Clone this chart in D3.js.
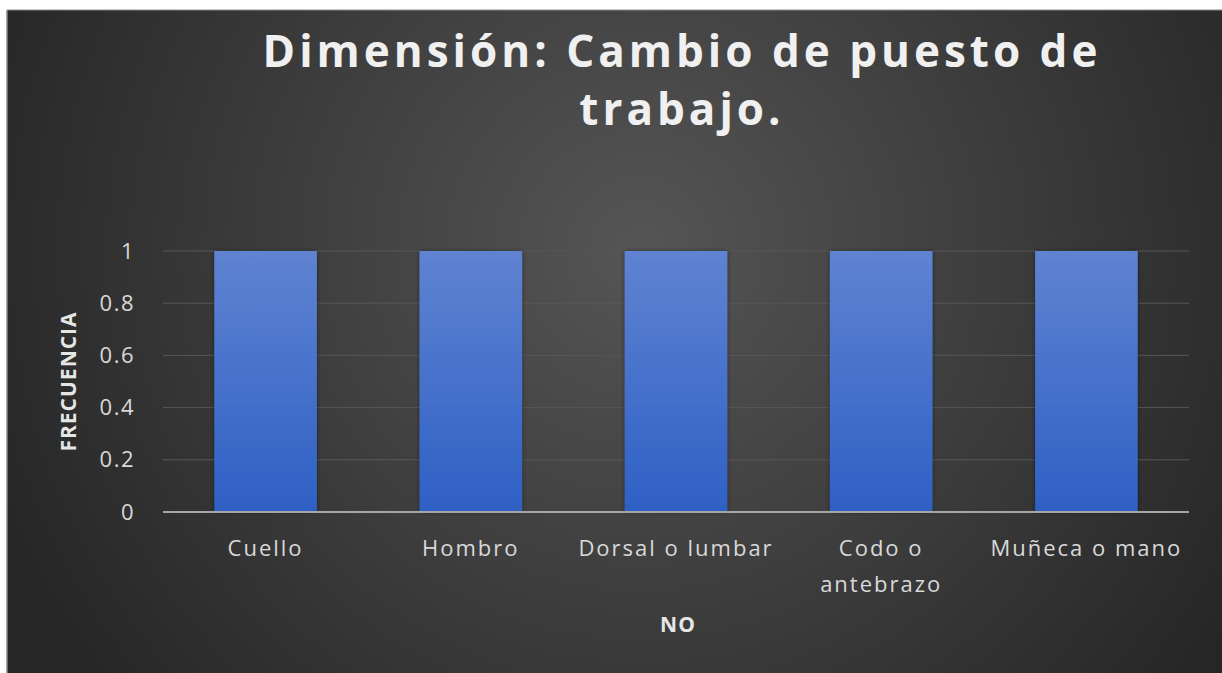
<!DOCTYPE html>
<html>
<head>
<meta charset="utf-8">
<script src="https://cdn.jsdelivr.net/npm/d3@7"></script>
<style>
  body { margin:0; background:#fff; }
  svg { display:block; }
</style>
</head>
<body>
<div class="canvas"></div>
<script>
// data
const categories = ['Cuello', 'Hombro', 'Dorsal o lumbar', 'Codo o antebrazo', 'Muñeca o mano'];
const values = [1, 1, 1, 1, 1];
const yTicks = [0, 0.2, 0.4, 0.6, 0.8, 1];
const titleLines = ['Dimensión: Cambio de puesto de', 'trabajo.'];

const W = 1222, H = 673;
const frame = { x:7, y:10 };
const plot = { left:163, right:1189, top:251, bottom:512 };

const svg = d3.select('.canvas')
  .append('svg')
  .attr('width', W)
  .attr('height', H);

const defs = svg.append('defs');

// background radial gradient
const bg = defs.append('radialGradient')
  .attr('id', 'bg')
  .attr('gradientUnits', 'userSpaceOnUse')
  .attr('cx', 640).attr('cy', 250).attr('r', 700);
bg.append('stop').attr('offset', '0%').attr('stop-color', '#555555');
bg.append('stop').attr('offset', '100%').attr('stop-color', '#262626');

// bar gradient
const bg2 = defs.append('linearGradient')
  .attr('id', 'barFill')
  .attr('x1', 0).attr('y1', 0).attr('x2', 0).attr('y2', 1);
bg2.append('stop').attr('offset', '0%').attr('stop-color', '#5f83d2');
bg2.append('stop').attr('offset', '100%').attr('stop-color', '#2e60c4');

const shadow = defs.append('filter').attr('id', 'shadow')
  .attr('x', '-10%').attr('y', '-10%').attr('width', '120%').attr('height', '120%');
shadow.append('feDropShadow')
  .attr('dx', 0).attr('dy', 0).attr('stdDeviation', 2)
  .attr('flood-color', '#000').attr('flood-opacity', 0.45);

// frame
svg.append('rect')
  .attr('x', frame.x).attr('y', frame.y)
  .attr('width', W - frame.x).attr('height', H - frame.y)
  .attr('fill', 'url(#bg)');
svg.append('line')
  .attr('x1', frame.x).attr('x2', frame.x)
  .attr('y1', frame.y).attr('y2', H)
  .attr('stroke', '#8a8a8a').attr('stroke-width', 1.5);
svg.append('line')
  .attr('x1', frame.x).attr('x2', W)
  .attr('y1', frame.y).attr('y2', frame.y)
  .attr('stroke', '#8a8a8a').attr('stroke-width', 1);

// scales
const x = d3.scaleBand()
  .domain(categories)
  .range([plot.left, plot.right])
  .paddingInner(0.5)
  .paddingOuter(0.25);

const y = d3.scaleLinear()
  .domain([0, 1])
  .range([plot.bottom, plot.top]);

// gridlines
svg.append('g')
  .selectAll('line')
  .data(yTicks.filter(d => d > 0))
  .join('line')
  .attr('x1', plot.left).attr('x2', plot.right)
  .attr('y1', d => y(d)).attr('y2', d => y(d))
  .attr('stroke', '#575757').attr('stroke-width', 1);

// y axis
const yAxis = svg.append('g')
  .attr('transform', `translate(${plot.left},0)`)
  .call(d3.axisLeft(y).tickValues(yTicks).tickFormat(d => d3.format('')(d)).tickSize(0).tickPadding(28));
yAxis.select('.domain').remove();
yAxis.selectAll('text')
  .attr('fill', '#d9d9d9')
  .style('font-family', '"Open Sans", sans-serif')
  .style('font-size', '22px')
  .style('letter-spacing', '1.5px');

// bars
svg.append('g')
  .selectAll('rect')
  .data(values)
  .join('rect')
  .attr('x', (d, i) => x(categories[i]))
  .attr('y', d => y(d))
  .attr('width', x.bandwidth())
  .attr('height', d => y(0) - y(d))
  .attr('fill', 'url(#barFill)')
  .attr('filter', 'url(#shadow)');

// baseline
svg.append('line')
  .attr('x1', plot.left).attr('x2', plot.right)
  .attr('y1', y(0)).attr('y2', y(0))
  .attr('stroke', '#a6a6a6').attr('stroke-width', 2);

// x labels (wrap "Codo o antebrazo")
const xLabels = svg.append('g');
categories.forEach(c => {
  const lines = c === 'Codo o antebrazo' ? ['Codo o', 'antebrazo'] : [c];
  const t = xLabels.append('text')
    .attr('x', x(c) + x.bandwidth() / 2)
    .attr('y', 556)
    .attr('text-anchor', 'middle')
    .attr('fill', '#d9d9d9')
    .style('font-family', '"Open Sans", sans-serif')
    .style('font-size', '22px')
    .style('letter-spacing', '2px');
  lines.forEach((l, i) => {
    t.append('tspan')
      .attr('x', x(c) + x.bandwidth() / 2)
      .attr('dy', i === 0 ? 0 : 36)
      .text(l);
  });
});

// axis titles
svg.append('text')
  .attr('x', (plot.left + plot.right) / 2 + 2)
  .attr('y', 632)
  .attr('text-anchor', 'middle')
  .attr('fill', '#e6e6e6')
  .style('font-family', '"Open Sans", sans-serif')
  .style('font-weight', 'bold')
  .style('font-size', '21px')
  .style('letter-spacing', '1px')
  .text('NO');

svg.append('text')
  .attr('transform', `translate(76, ${(plot.top + plot.bottom) / 2}) rotate(-90)`)
  .attr('text-anchor', 'middle')
  .attr('fill', '#e6e6e6')
  .style('font-family', '"Open Sans", sans-serif')
  .style('font-weight', 'bold')
  .style('font-size', '21px')
  .style('letter-spacing', '1px')
  .text('FRECUENCIA');

// title
const title = svg.append('text')
  .attr('text-anchor', 'middle')
  .attr('fill', '#f0f0f0')
  .style('font-family', '"Open Sans", sans-serif')
  .style('font-weight', 'bold')
  .style('font-size', '44px')
  .style('letter-spacing', '4px');
titleLines.forEach((l, i) => {
  title.append('tspan')
    .attr('x', 682)
    .attr('y', 67 + i * 58)
    .text(l);
});
</script>
</body>
</html>
